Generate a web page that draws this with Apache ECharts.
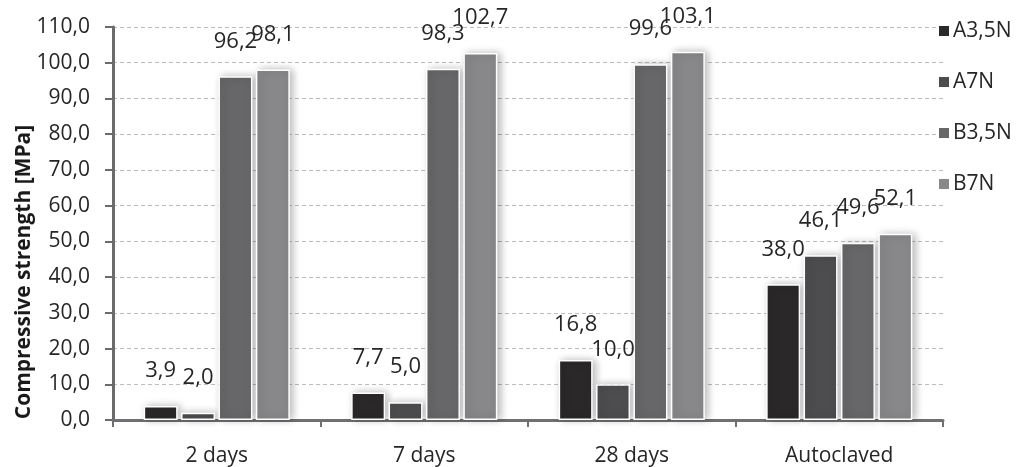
<!DOCTYPE html>
<html>
<head>
<meta charset="utf-8">
<script src="https://cdn.jsdelivr.net/npm/echarts@6/dist/echarts.min.js"></script>
<style>
  html, body { margin: 0; padding: 0; background: #fff; }
  #chart { width: 1016px; height: 467px; }
</style>
</head>
<body>
<div id="chart"></div>
<script>
// Compressive strength by curing regime
const categories = ['2 days', '7 days', '28 days', 'Autoclaved'];
const seriesNames = ['A3,5N', 'A7N', 'B3,5N', 'B7N'];
const A35N = [3.9, 7.7, 16.8, 38.0];
const A7N  = [2.0, 5.0, 10.0, 46.1];
const B35N = [96.2, 98.3, 99.6, 49.6];
const B7N  = [98.1, 102.7, 103.1, 52.1];
const seriesValues = [A35N, A7N, B35N, B7N];
const yAxisTitle = 'Compressive strength [MPa]';
const barColors = ['#2a2829', '#4d4d4f', '#676769', '#88888b'];

const FONT = '"Open Sans", "Liberation Sans", sans-serif';
const fmt = v => v.toFixed(1).replace('.', ',');

const chart = echarts.init(document.getElementById('chart'), null, { renderer: 'canvas' });

chart.setOption({
  animation: false,
  textStyle: { fontFamily: FONT, color: '#262626' },
  grid: { left: 113, right: 73, top: 27, bottom: 44, containLabel: false },
  legend: {
    orient: 'vertical',
    left: 932,
    top: 14,
    itemWidth: 12,
    itemHeight: 12,
    itemGap: 27,
    icon: 'rect',
    textStyle: { fontFamily: FONT, fontSize: 21, color: '#262626', lineHeight: 24, padding: [0, 0, 0, -2] },
    data: seriesNames
  },
  // Axis title, rotated and set lower than the plot's middle
  graphic: [{
    type: 'text',
    x: 24,
    y: 272,
    rotation: Math.PI / 2,
    style: {
      text: yAxisTitle,
      font: 'bold 21px ' + FONT,
      fill: '#1a1a1a',
      align: 'center',
      verticalAlign: 'middle'
    }
  }],
  xAxis: {
    type: 'category',
    data: categories,
    boundaryGap: true,
    axisLine: { lineStyle: { color: '#707072', width: 3 } },
    axisTick: { show: true, alignWithLabel: false, length: 7, lineStyle: { color: '#707072', width: 2 } },
    axisLabel: { fontFamily: FONT, fontSize: 21, color: '#262626', margin: 26 }
  },
  yAxis: {
    type: 'value',
    min: 0,
    max: 110,
    interval: 10,
    axisLine: { show: true, lineStyle: { color: '#6b6b6d', width: 3 } },
    axisTick: { show: true, inside: false, length: 8, lineStyle: { color: '#6b6b6d', width: 2 } },
    axisLabel: { fontFamily: FONT, fontSize: 21, color: '#262626', margin: 23, formatter: v => fmt(v) },
    splitLine: { show: true, lineStyle: { color: '#bdbdbd', type: [4, 3], width: 1 } }
  },
  series: seriesNames.map((name, i) => ({
    name: name,
    type: 'bar',
    data: seriesValues[i],
    barWidth: 34,
    barGap: '10%',
    itemStyle: {
      color: barColors[i],
      borderColor: '#ffffff',
      borderWidth: 1.5,
      shadowBlur: 8,
      shadowColor: 'rgba(0,0,0,0.28)',
      shadowOffsetX: 3,
      shadowOffsetY: 0
    },
    label: {
      show: true,
      position: 'top',
      distance: 24,
      fontFamily: FONT,
      fontSize: 22,
      color: '#262626',
      formatter: p => fmt(p.value)
    }
  }))
});
</script>
</body>
</html>
